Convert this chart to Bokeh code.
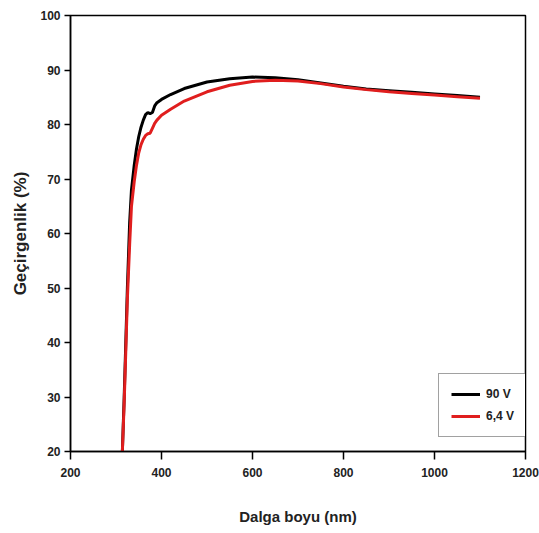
from bokeh.plotting import figure
from bokeh.models import Range1d, FixedTicker, Legend, LegendItem
from bokeh.embed import file_html
from bokeh.resources import INLINE

wavelength = [314, 318, 321, 325, 330, 334, 340, 345, 350, 355, 360, 365, 370, 375, 380,
              385, 390, 400, 420, 450, 500, 550, 600, 650, 700, 750, 800, 850, 900, 950,
              1000, 1050, 1100]
t_90v = [20, 30, 38.5, 50, 62, 68, 72.5, 75.5, 77.8, 79.5, 80.8, 81.8, 82.2, 82.0, 82.2,
         83.4, 84.0, 84.6, 85.5, 86.6, 87.8, 88.4, 88.7, 88.6, 88.2, 87.6, 87.0, 86.5,
         86.2, 85.9, 85.6, 85.3, 85.0]
t_64v = [20, 29, 37, 48, 58, 65, 69.5, 72.5, 74.8, 76.3, 77.3, 78.0, 78.3, 78.4, 79.3,
         80.2, 80.8, 81.7, 82.8, 84.3, 86.0, 87.2, 87.9, 88.1, 88.0, 87.5, 86.9, 86.4,
         86.0, 85.7, 85.4, 85.1, 84.8]
x_ticks = [200, 400, 600, 800, 1000, 1200]
y_ticks = [20, 30, 40, 50, 60, 70, 80, 90, 100]
labels = ["90 V", "6,4 V"]

FONT = "Liberation Sans"

p = figure(width=539, height=533, output_backend="svg", toolbar_location=None,
           x_range=Range1d(200, 1200), y_range=Range1d(20, 100),
           min_border_left=70, min_border_right=14, min_border_top=15,
           min_border_bottom=82)
p.background_fill_color = "white"
p.border_fill_color = "white"
p.grid.visible = False
p.outline_line_color = "black"
p.outline_line_width = 1.5

r1 = p.line(wavelength, t_90v, line_color="black", line_width=3)
r2 = p.line(wavelength, t_64v, line_color="#e01e1e", line_width=3)

for ax in (p.xaxis[0], p.yaxis[0]):
    ax.axis_line_width = 1.5
    ax.axis_line_color = "black"
    ax.major_tick_line_width = 1.5
    ax.major_tick_in = 0
    ax.minor_tick_line_color = None
    ax.major_label_text_font = FONT
    ax.major_label_text_font_style = "bold"
    ax.major_label_text_font_size = "12px"
    ax.major_label_text_color = "#222222"
    ax.axis_label_text_font = FONT
    ax.axis_label_text_font_style = "bold"
    ax.axis_label_text_color = "#222222"

p.xaxis.ticker = FixedTicker(ticks=x_ticks)
p.yaxis.ticker = FixedTicker(ticks=y_ticks)
p.xaxis.major_tick_out = 8
p.yaxis.major_tick_out = 6
p.xaxis.major_label_standoff = 8
p.yaxis.major_label_standoff = 4
p.xaxis.axis_label = "Dalga boyu (nm)"
p.yaxis.axis_label = "Geçirgenlik (%)"
p.xaxis.axis_label_text_font_size = "15px"
p.yaxis.axis_label_text_font_size = "17px"
p.xaxis.axis_label_standoff = 28
p.yaxis.axis_label_standoff = 7

legend = Legend(items=[LegendItem(label=labels[0], renderers=[r1]),
                       LegendItem(label=labels[1], renderers=[r2])],
                location=(368, 14), margin=0, padding=12, spacing=6,
                glyph_width=29, glyph_height=16, label_standoff=6,
                label_text_font=FONT, label_text_font_style="bold",
                label_text_font_size="12px", label_text_color="#222222",
                border_line_color="#444444", border_line_width=1,
                background_fill_color="white", background_fill_alpha=1)
p.add_layout(legend, "center")

open("out.html", "w").write(file_html(p, INLINE))
